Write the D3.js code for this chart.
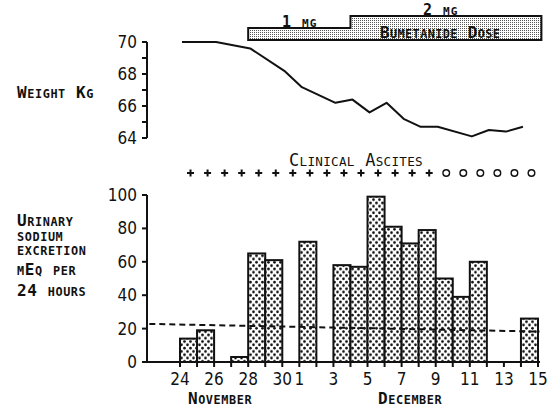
<!DOCTYPE html>
<html>
<head>
<meta charset="utf-8">
<script src="https://cdn.jsdelivr.net/npm/d3@7"></script>
<style>
  body { margin: 0; background: #fff; }
  svg text {
    font-family: "DejaVu Sans Mono", "Liberation Mono", monospace;
    font-weight: bold;
    font-size: 16px;
    letter-spacing: 0.6px;
    fill: #111;
  }
  svg text.num {
    font-family: "Liberation Sans Narrow", "DejaVu Sans Condensed", sans-serif;
    font-weight: normal;
    font-size: 17px;
    letter-spacing: 0;
  }
</style>
</head>
<body>
<script>
// day index 0 = Nov 24 ... 21 = Dec 15
const tickDays = [0, 2, 4, 6, 7, 9, 11, 13, 15, 17, 19, 21];
const tickLabels = ["24", "26", "28", "30", "1", "3", "5", "7", "9", "11", "13", "15"];
const months = ["November", "December"];
const monthDays = [2.35, 13.5];

// urinary sodium, mEq / 24 h
const sodiumDays = [0, 1, 3, 4, 5, 7, 9, 10, 11, 12, 13, 14, 15, 16, 17, 20];
const sodiumValues = [14, 19, 3, 65, 61, 72, 58, 57, 99, 81, 71, 79, 50, 39, 60, 26];
const sodiumTicks = [0, 20, 40, 60, 80, 100];
const trendDays = [-1.8, 21.1];
const trendValues = [22.8, 18.2];

// body weight, kg
const weightDays = [0, 2, 4, 6, 7, 9, 10, 11, 12, 13, 14, 15, 17, 18, 19, 20];
const weightValues = [70, 70, 69.6, 68.2, 67.2, 66.2, 66.4, 65.6, 66.2, 65.2, 64.7, 64.7, 64.1, 64.5, 64.4, 64.7];
const weightTicks = [64, 66, 68, 70];
const weightMinor = [64, 65, 66, 67, 68, 69, 70];

// bumetanide dose steps
const doseFrom = [4, 10];
const doseTo = [10, 21.2];
const doseMg = [1, 2];

// clinical ascites per day: + present, o absent
const ascites = ["+","+","+","+","+","+","+","+","+","+","+","+","+","+","+","o","o","o","o","o","o"];

const width = 558, height = 408;
const svg = d3.select("body").append("svg")
  .attr("width", width).attr("height", height);

// typewriter style small caps: lower case letters drawn as smaller capitals
function caps(el, str, size) {
  const runs = str.match(/[a-z]+|[^a-z]+/g);
  runs.forEach(r => {
    const low = /[a-z]/.test(r);
    el.append("tspan")
      .style("font-size", (low ? size * 0.74 : size) + "px")
      .text(r.toUpperCase());
  });
  return el;
}

const defs = svg.append("defs");
// coarse dots for the sodium bars
const dots = defs.append("pattern").attr("id", "dots")
  .attr("patternUnits", "userSpaceOnUse")
  .attr("width", 6).attr("height", 6.6);
dots.append("rect").attr("width", 6).attr("height", 6.6).attr("fill", "#fff");
dots.append("circle").attr("cx", 1.5).attr("cy", 1.6).attr("r", 1.35).attr("fill", "#111");
dots.append("circle").attr("cx", 4.5).attr("cy", 4.9).attr("r", 1.35).attr("fill", "#111");
// fine stipple for the dose bar
const fine = defs.append("pattern").attr("id", "fine")
  .attr("patternUnits", "userSpaceOnUse")
  .attr("width", 2).attr("height", 2);
fine.append("rect").attr("width", 2).attr("height", 2).attr("fill", "#fff");
fine.append("rect").attr("width", 1).attr("height", 1).attr("fill", "#555");

const x = d3.scaleLinear().domain([0, 21]).range([180, 538]);
const yW = d3.scaleLinear().domain([64, 70]).range([138, 42]);
const yS = d3.scaleLinear().domain([0, 100]).range([362, 195]);
const yD = d3.scaleLinear().domain([0, 2]).range([40, 16]);

//----- dose bar
const doseShape = [[x(doseFrom[0]), yD(0)]];
doseFrom.forEach((d, i) => {
  doseShape.push([x(d), yD(doseMg[i])]);
  doseShape.push([x(doseTo[i]), yD(doseMg[i])]);
});
doseShape.push([x(doseTo[doseTo.length - 1]), yD(0)]);
svg.append("path")
  .attr("d", d3.line()(doseShape) + "Z")
  .attr("fill", "url(#fine)")
  .attr("stroke", "#111").attr("stroke-width", 2);

caps(svg.append("text").attr("x", 282).attr("y", 26.5).style("letter-spacing", "1px"), "1 mg", 15);
caps(svg.append("text").attr("x", 423).attr("y", 14.5).style("letter-spacing", "1px"), "2 mg", 15);
caps(svg.append("text").attr("x", 380).attr("y", 38).style("letter-spacing", "0.4px"), "Bumetanide Dose", 16);

//----- weight panel
const wAxis = svg.append("g").attr("transform", "translate(147,0)");
wAxis.append("line").attr("y1", yW(70)).attr("y2", yW(64))
  .attr("stroke", "#111").attr("stroke-width", 2);
wAxis.selectAll("line.t").data(weightMinor).join("line").attr("class", "t")
  .attr("x1", -5).attr("x2", 0)
  .attr("y1", d => yW(d)).attr("y2", d => yW(d))
  .attr("stroke", "#111").attr("stroke-width", 2);
wAxis.selectAll("text").data(weightTicks).join("text").attr("class", "num")
  .attr("x", -10).attr("y", d => yW(d)).attr("dy", "0.35em")
  .attr("text-anchor", "end").text(d => d);

caps(svg.append("text").attr("x", 17).attr("y", 98), "Weight Kg", 16);

svg.append("path")
  .attr("d", d3.line().x(d => x(d[0]) + 2).y(d => yW(d[1]))(weightDays.map((d, i) => [d, weightValues[i]])))
  .attr("fill", "none").attr("stroke", "#111").attr("stroke-width", 2)
  .attr("stroke-linejoin", "round");

//----- clinical ascites
caps(svg.append("text").attr("x", 356).attr("y", 166).attr("text-anchor", "middle")
  .style("font-weight", "normal").style("letter-spacing", "0.3px"), "Clinical Ascites", 17);
const asc = svg.append("g").selectAll("g").data(ascites).join("g")
  .attr("transform", (d, i) => `translate(${x(i + 0.5) + 2},173)`);
asc.filter(d => d === "+").append("path")
  .attr("d", "M-3.5,0H3.5M0,-3.5V3.5")
  .attr("stroke", "#111").attr("stroke-width", 2);
asc.filter(d => d === "o").append("circle")
  .attr("r", 3.3).attr("fill", "none")
  .attr("stroke", "#111").attr("stroke-width", 1.4);

//----- sodium panel
const sAxis = svg.append("g").attr("transform", "translate(147,0)");
sAxis.append("line").attr("y1", yS(100)).attr("y2", yS(0))
  .attr("stroke", "#111").attr("stroke-width", 2);
sAxis.selectAll("line.t").data(sodiumTicks).join("line").attr("class", "t")
  .attr("x1", -5).attr("x2", 0)
  .attr("y1", d => yS(d)).attr("y2", d => yS(d))
  .attr("stroke", "#111").attr("stroke-width", 2);
sAxis.selectAll("text").data(sodiumTicks).join("text").attr("class", "num")
  .attr("x", -10).attr("y", d => yS(d)).attr("dy", "0.35em")
  .attr("text-anchor", "end").text(d => d);

// y title as one text block, one tspan per line
const sLabel = ["Urinary", "sodium", "excretion", "mEq per", "24 hours"];
const sLabelY = [226, 241, 255, 275, 296];
const sTitle = svg.append("text");
sLabel.forEach((s, i) => {
  caps(sTitle.append("tspan").attr("x", 17).attr("y", sLabelY[i]), s, 16);
});

svg.append("g").selectAll("rect").data(sodiumDays).join("rect")
  .attr("x", d => x(d)).attr("width", d => x(d + 1) - x(d))
  .attr("y", (d, i) => yS(sodiumValues[i]))
  .attr("height", (d, i) => yS(0) - yS(sodiumValues[i]))
  .attr("fill", "url(#dots)")
  .attr("stroke", "#111").attr("stroke-width", 2);

svg.append("path")
  .attr("d", d3.line().x(d => x(d[0])).y(d => yS(d[1]))(trendDays.map((d, i) => [d, trendValues[i]])))
  .attr("fill", "none").attr("stroke", "#111").attr("stroke-width", 2)
  .attr("stroke-dasharray", "6,4");

// x axis
svg.append("line").attr("x1", 145).attr("x2", x(21) + 2)
  .attr("y1", yS(0)).attr("y2", yS(0))
  .attr("stroke", "#111").attr("stroke-width", 2);
svg.append("g").selectAll("line").data(d3.range(0, 22)).join("line")
  .attr("x1", d => x(d)).attr("x2", d => x(d))
  .attr("y1", yS(0)).attr("y2", yS(0) + 5)
  .attr("stroke", "#111").attr("stroke-width", 2);
svg.append("g").selectAll("text").data(tickDays).join("text").attr("class", "num")
  .attr("x", d => x(d)).attr("y", 385)
  .attr("text-anchor", "middle").text((d, i) => tickLabels[i]);
svg.append("g").selectAll("text").data(months).join("text")
  .attr("x", (d, i) => x(monthDays[i])).attr("y", 404)
  .attr("text-anchor", "middle")
  .each(function(d) { caps(d3.select(this), d, 16); });
</script>
</body>
</html>
